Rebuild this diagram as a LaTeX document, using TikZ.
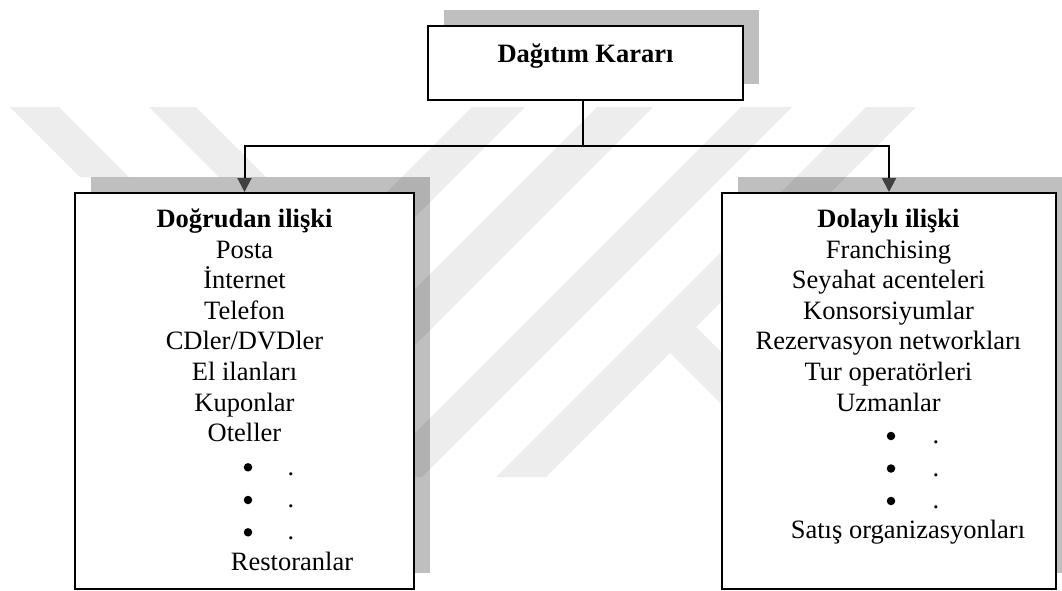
\documentclass[tikz,border=0pt]{standalone}
\usepackage{fontspec}
\setmainfont{Liberation Serif}
\usetikzlibrary{arrows.meta}
\tikzset{
  panel/.style={draw=black, line width=2pt, fill=white, inner sep=0pt},
  shadowfill/.style={fill=black, fill opacity=0.25, draw=none},
  link/.style={draw=black, line width=2pt},
  drop/.style={link, -{Triangle[length=14pt,width=14pt,color=black!75]}},
  entry/.style={anchor=base, inner sep=0pt, font=\fontsize{26.5}{30.5}\selectfont},
  head/.style={anchor=base, inner sep=0pt, font=\fontsize{26.5}{30.5}\selectfont\bfseries},
  bulletmark/.style={circle, fill=black, draw=none, inner sep=0pt, minimum size=8.5pt},
  wm/.style={fill=black!7, draw=none},
}
\begin{document}
\begin{tikzpicture}[x=1pt,y=-1pt]
\useasboundingbox (0,0) rectangle (1062,590);

% faint background watermark bands
\fill[wm] (10,107) -- (59,107) -- (129,177) -- (80,177) -- cycle;
\fill[wm] (149,107) -- (196,107) -- (266,177) -- (219,177) -- cycle;
\fill[wm] (472,107) -- (525,107) -- (155,477) -- (102,477) -- cycle;
\fill[wm] (597,107) -- (653,107) -- (283,477) -- (227,477) -- cycle;
\fill[wm] (741,107) -- (792,107) -- (422,477) -- (371,477) -- cycle;
\fill[wm] (866,107) -- (916,107) -- (546,477) -- (496,477) -- cycle;
\fill[wm] (696,327) -- (670,353) -- (750,433) -- (776,407) -- cycle;

% drop shadows, offset up and to the right of each box
\fill[shadowfill] (444,10) rectangle (759,84);
\fill[shadowfill] (91,177) rectangle (430,573);
\fill[shadowfill] (738,177) rectangle (1072,573);

% boxes: decision on top, the two relation types below
\node[panel, minimum width=315pt, minimum height=74pt] (T) at (585.5,63) {};
\node[panel, minimum width=339pt, minimum height=396pt] (L) at (244.5,391) {};
\node[panel, minimum width=334pt, minimum height=396pt] (R) at (889,391) {};

% connectors
\coordinate (J) at (583,146);
\draw[draw=black, line width=1.4pt] (J |- T.south) -- (J);
\draw[drop] (J) -| (L.north);
\draw[drop] (J) -| (R.north);

% titles and entries
\node[head] (tT) at (585.5,62.7) {Dağıtım Kararı};

\node[head]  (l0) at (244.5,227) {Doğrudan ilişki};
\node[entry] (l1) at (244.5,258) {Posta};
\node[entry] (l2) at (244.5,288.6) {İnternet};
\node[entry] (l3) at (244.5,319.2) {Telefon};
\node[entry] (l4) at (244.5,349.8) {CDler/DVDler};
\node[entry] (l5) at (244.5,380.4) {El ilanları};
\node[entry] (l6) at (244.5,411) {Kuponlar};
\node[entry] (l7) at (244.5,441.6) {Oteller};
\node[bulletmark] (lb1) at (248,467.3) {};
\node[bulletmark] (lb2) at (248,500) {};
\node[bulletmark] (lb3) at (248,532.3) {};
\node[entry] (ld1) at (291,475) {.};
\node[entry] (ld2) at (291,507.5) {.};
\node[entry] (ld3) at (291,539.5) {.};
\node[entry] (l8) at (292,570) {Restoranlar};

\node[head]  (r0) at (888.5,227) {Dolaylı ilişki};
\node[entry] (r1) at (888.5,258) {Franchising};
\node[entry] (r2) at (888.5,288.6) {Seyahat acenteleri};
\node[entry] (r3) at (888.5,319.2) {Konsorsiyumlar};
\node[entry] (r4) at (888.5,349.8) {Rezervasyon networkları};
\node[entry] (r5) at (888.5,380.4) {Tur operatörleri};
\node[entry] (r6) at (888.5,411) {Uzmanlar};
\node[bulletmark] (rb1) at (891,436) {};
\node[bulletmark] (rb2) at (891,468.5) {};
\node[bulletmark] (rb3) at (891,501) {};
\node[entry] (rd1) at (936,443.5) {.};
\node[entry] (rd2) at (936,476) {.};
\node[entry] (rd3) at (936,508.5) {.};
\node[entry] (r7) at (908,538.5) {Satış organizasyonları};
\end{tikzpicture}
\end{document}
